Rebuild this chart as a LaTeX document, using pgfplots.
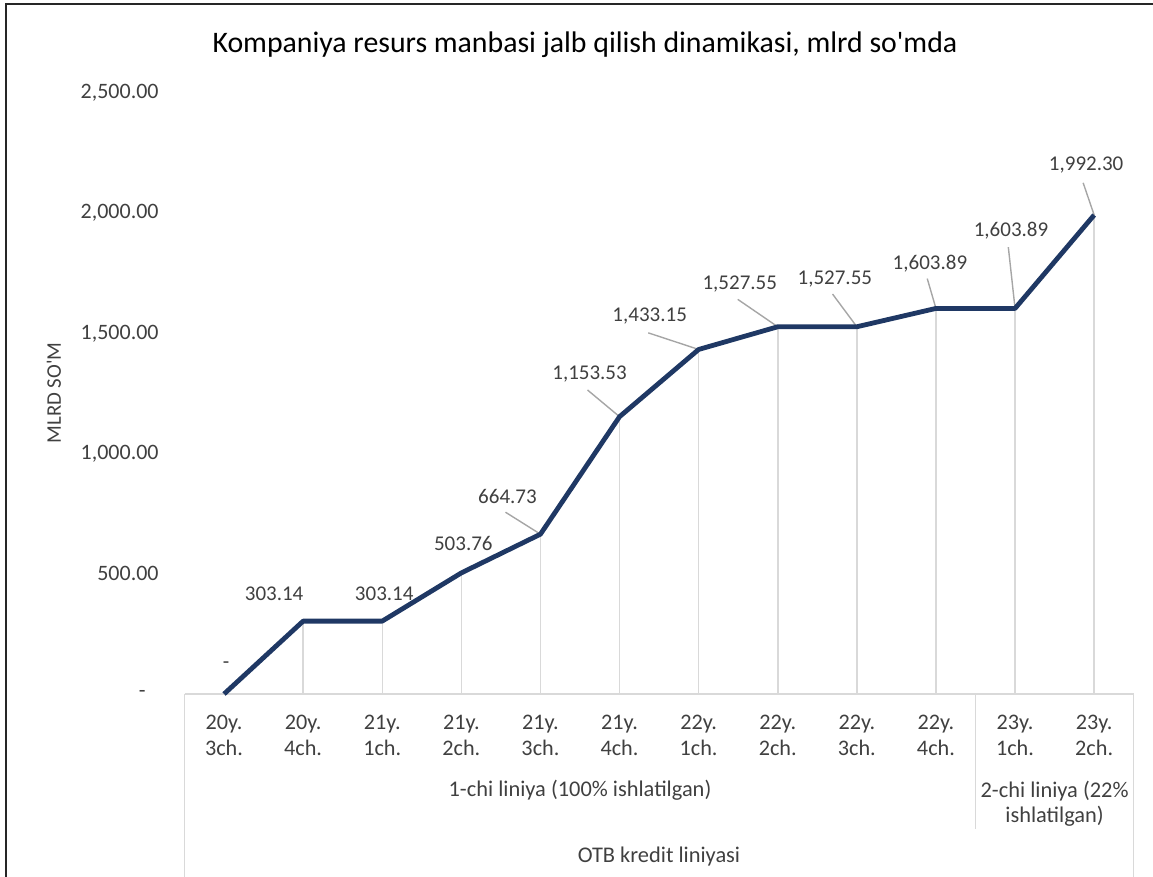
\documentclass[border=0pt]{standalone}
\usepackage{pgfplots}
\pgfplotsset{compat=1.18}
\usepackage{pgfplotstable}
\usepackage{fontspec}
\setmainfont{Carlito}[Ligatures=TeXOff]
\definecolor{navy}{RGB}{31,56,100}
\definecolor{txt}{RGB}{64,64,64}
\definecolor{gridc}{RGB}{217,217,217}
\definecolor{leadc}{RGB}{166,166,166}

% series: category index and value
\pgfplotstableread{
x y
0 0
1 303.14
2 303.14
3 503.76
4 664.73
5 1153.53
6 1433.15
7 1527.55
8 1527.55
9 1603.89
10 1603.89
11 1992.30
}\datatable

% data label positions (data units) and texts
\pgfplotstableread{
lx ly lab
0.025 120.7 -
0.633 415.5 303.14
2.025 415.5 303.14
3.025 624.4 503.76
3.583 822.8 664.73
4.621 1332.4 1,153.53
5.381 1570.5 1,433.15
6.520 1706.5 1,527.55
7.722 1727.3 1,527.55
8.924 1791.1 1,603.89
9.949 1928.5 1,603.89
10.899 2200.4 1,992.30
}\labeltable

% leader lines: from data point towards its label
\pgfplotstableread{
x y
4 664.73
3.558 756.2
nan nan
5 1153.53
4.595 1264.5
nan nan
6 1433.15
5.363 1502.2
nan nan
7 1527.55
6.494 1641.6
nan nan
8 1527.55
7.693 1663.6
nan nan
9 1603.89
8.890 1727.9
nan nan
10 1603.89
9.915 1858.9
nan nan
11 1992.30
10.861 2126.3
}\leadtable

\begin{document}
\begin{tikzpicture}
\useasboundingbox (0,0) rectangle (576.5pt,438.5pt);
\begin{axis}[
  at={(92.25pt,91.5pt)}, anchor=south west,
  scale only axis, width=474.6pt, height=300.5pt,
  xmin=-0.5, xmax=11.5, ymin=0, ymax=2500,
  axis line style={draw=none},
  major tick length=0pt,
  clip=false,
  unbounded coords=jump,
  xtick={0,...,11},
  xticklabels={{20y.\\3ch.},{20y.\\4ch.},{21y.\\1ch.},{21y.\\2ch.},{21y.\\3ch.},{21y.\\4ch.},{22y.\\1ch.},{22y.\\2ch.},{22y.\\3ch.},{22y.\\4ch.},{23y.\\1ch.},{23y.\\2ch.}},
  xticklabel style={align=center, font=\fontsize{11.1}{13}\selectfont, text=txt, anchor=north, inner sep=0pt, yshift=-10.3pt},
  ytick={0,500,1000,1500,2000,2500},
  yticklabels={{-\rule{6.5pt}{0pt}},{500.00},{1,000.00},{1,500.00},{2,000.00},{2,500.00}},
  yticklabel style={font=\fontsize{11}{13}\selectfont, text=txt, anchor=east, inner sep=0pt, xshift=-12.75pt},
]
\draw[gridc, line width=0.75pt] (axis cs:-0.5,0) -- (axis cs:11.5,0);
\addplot[ycomb, gridc, line width=0.75pt, mark=none] table[x=x, y=y] {\datatable};
\addplot[leadc, line width=0.7pt, mark=none] table[x=x, y=y] {\leadtable};
\addplot[navy, line width=2.4pt, line join=round, mark=none] table[x=x, y=y] {\datatable};
\addplot[draw=none, mark=none, point meta=explicit symbolic, nodes near coords,
  every node near coord/.append style={anchor=center, inner sep=0pt, text=txt,
     font=\fontsize{10.5}{12}\selectfont}]
  table[x=lx, y=ly, meta=lab] {\labeltable};
\end{axis}
% category grouping lines
\draw[gridc, line width=0.75pt] (92.25pt,91.5pt) -- (92.25pt,0pt);
\draw[gridc, line width=0.75pt] (487.75pt,91.5pt) -- (487.75pt,24pt);
\draw[gridc, line width=0.75pt] (566.85pt,91.5pt) -- (566.85pt,0pt);
\node[font=\fontsize{11.2}{13}\selectfont, text=txt] at (290pt,43.15pt) {1-chi liniya (100\% ishlatilgan)};
\node[font=\fontsize{11.2}{12.65}\selectfont, text=txt, align=center] at (527.3pt,36.8pt) {2-chi liniya (22\%\\ishlatilgan)};
\node[font=\fontsize{11.2}{13}\selectfont, text=txt] at (329.5pt,10.15pt) {OTB kredit liniyasi};
% title and axis label
\node[font=\fontsize{14.9}{17}\selectfont, text=black] at (292.5pt,416pt) {Kompaniya resurs manbasi jalb qilish dinamikasi, mlrd so'mda};
\node[font=\fontsize{10.4}{12}\selectfont, text=txt, rotate=90] at (27pt,242pt) {MLRD SO'M};
% chart frame
\draw[black!85, line width=1pt] (3pt,0pt) -- (3pt,436.5pt) -- (576.5pt,436.5pt);
\end{tikzpicture}
\end{document}
